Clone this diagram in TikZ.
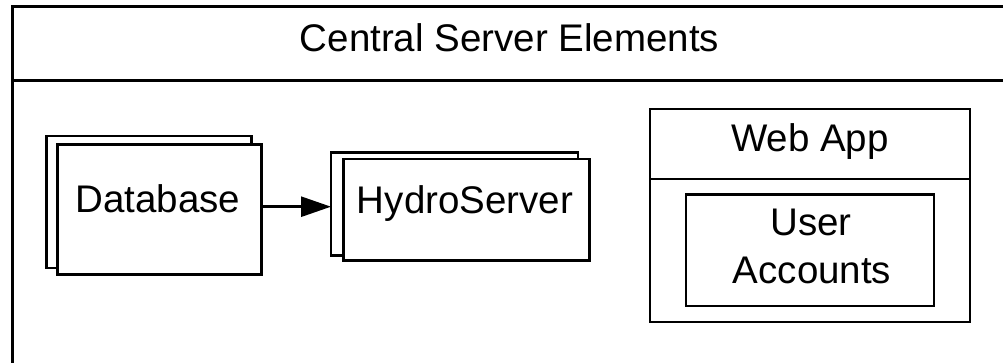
\documentclass[tikz,border=0pt]{standalone}
\usepackage{fontspec}
\setmainfont{Liberation Sans}
\usetikzlibrary{arrows.meta}
\begin{document}
\begin{tikzpicture}[x=1pt,y=-1pt,
  box/.style={draw=black, line width=2.7pt, fill=white, rectangle, inner sep=0pt, outer sep=0pt, anchor=north west},
  lbl/.style={font=\fontsize{38.5}{48}\selectfont, inner sep=0pt, anchor=base},
  conn/.style={line width=2.7pt, -{Triangle[length=30pt,width=20pt]}}]
\useasboundingbox (0,0) rectangle (1003,362);
\fill[white] (0,0) rectangle (1003,362);
\begin{scope}
  \clip (0,0) rectangle (1003,362);
  \node[box, minimum width=1020pt, minimum height=400pt] (frame) at (12.6,6.7) {};
  \draw[line width=2.7pt] ([yshift=-74pt]frame.north west) -- ([yshift=-74pt]frame.north east);
\end{scope}
\node[lbl] (title) at (509.5,51.7) {Central Server Elements};
% Database stack
\node[box, minimum width=204.7pt, minimum height=132pt] (dbb) at (46.7,136) {};
\node[box, minimum width=204pt, minimum height=130pt] (dbf) at (57.4,144.3) {};
\node[lbl] (dbl) at (158,212.7) {Database};
% HydroServer stack
\node[box, minimum width=247pt, minimum height=103pt] (hsb) at (331,152.7) {};
\node[box, minimum width=246pt, minimum height=101.3pt] (hsf) at (343.3,159) {};
\node[lbl] (hsl) at (465,213) {HydroServer};
% arrow
\draw[conn] ([yshift=2.6pt]dbf.east) -- ([yshift=2.6pt]dbf.east -| hsb.west);
% Web App
\node[box, minimum width=320pt, minimum height=213pt] (wa) at (650,109) {};
\draw[line width=2.7pt] ([yshift=-70pt]wa.north west) -- ([yshift=-70pt]wa.north east);
\node[lbl] (wal) at (810,151.7) {Web App};
\node[box, minimum width=248pt, minimum height=111.5pt] (ua) at (686,194.5) {};
\node[lbl] (ual1) at (811,235) {User};
\node[lbl] (ual2) at (812,283.3) {Accounts};
\end{tikzpicture}
\end{document}
